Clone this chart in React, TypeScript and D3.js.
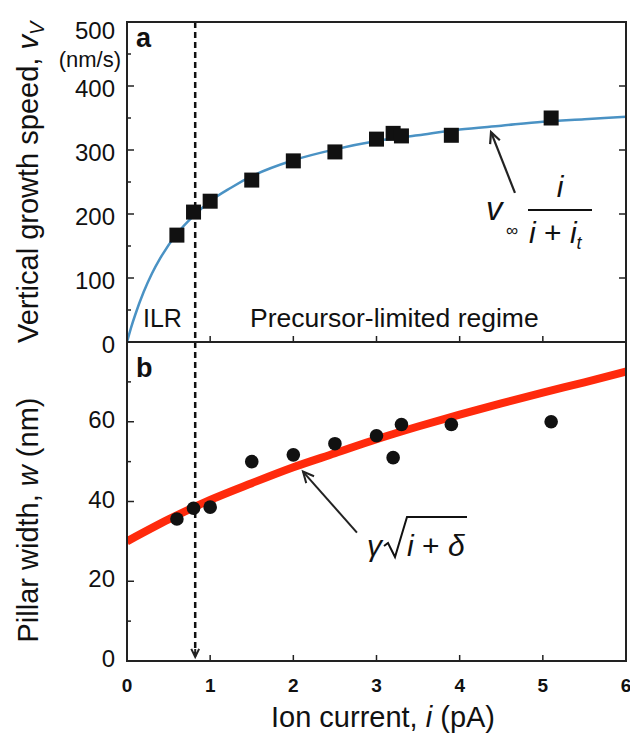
import React from "react";
import * as d3 from "d3";

// x axis shared by both panels
const xTicks = [0, 1, 2, 3, 4, 5, 6];
const speedTicks = [0, 100, 200, 300, 400, 500];
const speedMinor = [50, 150, 250, 350, 450];
const widthTicks = [0, 20, 40, 60];
const widthMinor = [10, 30, 50, 70];

// panel a: vertical growth speed (nm/s)
const speedX = [0.6, 0.8, 1.0, 1.5, 2.0, 2.5, 3.0, 3.2, 3.3, 3.9, 5.1];
const speedY = [167, 203, 220, 253, 283, 297, 317, 326, 322, 323, 350];
// fitted curve
const speedFitX = [0, 0.05, 0.1, 0.2, 0.3, 0.4, 0.6, 0.8, 1, 1.25, 1.5, 2, 2.5, 3, 3.5, 4, 4.5, 5, 5.5, 6];
const speedFitY = [0, 23, 43, 78, 107, 131, 169, 197, 220, 241, 259, 284, 301, 314, 323, 332, 338, 344, 348, 352];

// panel b: pillar width (nm)
const widthX = [0.6, 0.8, 1.0, 1.5, 2.0, 2.5, 3.0, 3.2, 3.3, 3.9, 5.1];
const widthY = [35.6, 38.3, 38.6, 50, 51.7, 54.5, 56.5, 51, 59.3, 59.3, 60];
const widthFitX = [0, 0.5, 1, 1.5, 2, 2.5, 3, 3.5, 4, 4.5, 5, 5.5, 6];
const widthFitY = [30, 35.5, 40.4, 44.6, 48.6, 52.1, 55.6, 58.8, 61.8, 64.6, 67.3, 69.9, 72.6];

const ilrCurrent = 0.82;

const W = 630;
const H = 734;
const left = 127;
const right = 626;
const topA = 22;
const mid = 342;
const botB = 661;

const font = "'Liberation Sans', Arial, Helvetica, sans-serif";
const ink = "#222";

export default function App() {
  const x = d3.scaleLinear().domain([0, 6]).range([left, right]);
  const yA = d3.scaleLinear().domain([0, 500]).range([mid, topA]);
  const yB = d3.scaleLinear().domain([0, 80]).range([botB, mid]);

  const lineA = d3
    .line<number>()
    .x((d, i) => x(speedFitX[i]))
    .y((d) => yA(d))
    .curve(d3.curveMonotoneX);
  const lineB = d3
    .line<number>()
    .x((d, i) => x(widthFitX[i]))
    .y((d) => yB(d))
    .curve(d3.curveMonotoneX);

  const arrow = (x1: number, y1: number, x2: number, y2: number, len = 10, w = 2) => {
    const ang = Math.atan2(y2 - y1, x2 - x1);
    const a1 = ang + Math.PI - 0.45;
    const a2 = ang + Math.PI + 0.45;
    return (
      <g stroke={ink} strokeWidth={w} fill="none">
        <line x1={x1} y1={y1} x2={x2} y2={y2} />
        <polyline
          points={`${x2 + len * Math.cos(a1)},${y2 + len * Math.sin(a1)} ${x2},${y2} ${x2 + len * Math.cos(a2)},${y2 + len * Math.sin(a2)}`}
        />
      </g>
    );
  };

  const sq = 15;

  return (
    <svg width={W} height={H} style={{ position: "absolute", left: 0, top: 0, background: "#fff" }} fontFamily={font}>
      <defs>
        <clipPath id="clipA">
          <rect x={left} y={topA} width={right - left} height={mid - topA} />
        </clipPath>
        <clipPath id="clipB">
          <rect x={left} y={mid} width={right - left} height={botB - mid} />
        </clipPath>
      </defs>

      {/* ticks, all pointing inward */}
      <g stroke={ink} strokeWidth={1.5}>
        {speedTicks.slice(1, -1).map((t) => (
          <g key={"sa" + t}>
            <line x1={left} x2={left + 7} y1={yA(t)} y2={yA(t)} />
            <line x1={right} x2={right - 7} y1={yA(t)} y2={yA(t)} />
          </g>
        ))}
        {speedMinor.map((t) => (
          <line key={"sm" + t} x1={left} x2={left + 4} y1={yA(t)} y2={yA(t)} />
        ))}
        {xTicks.slice(1, -1).map((t) => (
          <g key={"xa" + t}>
            <line x1={x(t)} x2={x(t)} y1={mid} y2={mid - 6} />
            <line x1={x(t)} x2={x(t)} y1={botB} y2={botB - 6} />
          </g>
        ))}
        {widthTicks.slice(1).map((t) => (
          <line key={"wb" + t} x1={left} x2={left + 7} y1={yB(t)} y2={yB(t)} />
        ))}
        {widthMinor.map((t) => (
          <line key={"wm" + t} x1={left} x2={left + 4} y1={yB(t)} y2={yB(t)} />
        ))}
      </g>

      {/* dashed ILR line */}
      <line
        x1={x(ilrCurrent)}
        x2={x(ilrCurrent)}
        y1={topA}
        y2={botB - 6}
        stroke="#111"
        strokeWidth={2.5}
        strokeDasharray="6,4"
      />
      {arrow(x(ilrCurrent), botB - 12, x(ilrCurrent), botB - 4, 9, 2)}

      {/* panel a data */}
      <path d={lineA(speedFitY) ?? ""} fill="none" stroke="#4a92c4" strokeWidth={2.5} clipPath="url(#clipA)" />
      {speedX.map((v, i) => (
        <rect key={"p" + i} x={x(v) - sq / 2} y={yA(speedY[i]) - sq / 2} width={sq} height={sq} fill="#111" />
      ))}

      {/* panel b data */}
      <path d={lineB(widthFitY) ?? ""} fill="none" stroke="#ff2a0c" strokeWidth={8} clipPath="url(#clipB)" />
      {widthX.map((v, i) => (
        <circle key={"c" + i} cx={x(v)} cy={yB(widthY[i])} r={6.8} fill="#111" />
      ))}

      {/* frames */}
      <rect x={left} y={topA} width={right - left} height={mid - topA} fill="none" stroke={ink} strokeWidth={2} />
      <rect x={left} y={mid} width={right - left} height={botB - mid} fill="none" stroke={ink} strokeWidth={2} />

      {/* tick labels */}
      <g fontSize={24} fill="#111" textAnchor="end">
        {speedTicks.map((t) => (
          <text key={"la" + t} x={115} y={t === 500 ? 39 : yA(t) + 11}>
            {t}
          </text>
        ))}
        <text x={121} y={67} fontSize={22}>
          (nm/s)
        </text>
        {widthTicks.map((t) => (
          <text key={"lb" + t} x={115} y={yB(t) + 6}>
            {t}
          </text>
        ))}
      </g>
      <g fontSize={19} fontWeight="bold" fill="#111" textAnchor="middle">
        {xTicks.map((t) => (
          <text key={"lx" + t} x={x(t)} y={692}>
            {t}
          </text>
        ))}
      </g>

      {/* axis titles */}
      <text x={383} y={727} fontSize={29} textAnchor="middle" fill="#111">
        Ion current, <tspan fontStyle="italic">i</tspan> (pA)
      </text>
      <text transform="translate(38,343) rotate(-90)" fontSize={29} fill="#111">
        Vertical growth speed, <tspan fontStyle="italic">v</tspan>
        <tspan fontSize={20} dy={6} fontStyle="italic">
          V
        </tspan>
      </text>
      <text transform="translate(38,520) rotate(-90)" fontSize={29} fill="#111" textAnchor="middle">
        Pillar width, <tspan fontStyle="italic">w</tspan> (nm)
      </text>

      {/* panel labels */}
      <text x={136} y={47} fontSize={27} fontWeight="bold" fill="#111">
        a
      </text>
      <text x={136} y={377} fontSize={27} fontWeight="bold" fill="#111">
        b
      </text>

      {/* regime labels */}
      <text x={143} y={327} fontSize={25} fill="#111">
        ILR
      </text>
      <text x={250} y={327} fontSize={26.5} fill="#111">
        Precursor-limited regime
      </text>

      {/* panel a formula */}
      {arrow(x(4.665), yA(233), x(4.377), yA(328), 12, 2.2)}
      <g fill="#111" fontStyle="italic">
        <text x={486} y={220} fontSize={33}>
          v
        </text>
        <text x={506} y={236} fontSize={17} fontStyle="normal">
          ∞
        </text>
        <text x={560} y={197} fontSize={30} textAnchor="middle">
          i
        </text>
        <line x1={528} x2={592} y1={210} y2={210} stroke="#111" strokeWidth={2.2} />
        <text x={529} y={243} fontSize={30}>
          i<tspan fontStyle="normal"> + </tspan>i
          <tspan fontSize={18} dy={6}>
            t
          </tspan>
        </text>
      </g>

      {/* panel b formula */}
      {arrow(x(2.765), yB(32.2), x(2.116), yB(47.5), 12, 2)}
      <g fill="#111">
        <text x={367} y={556} fontSize={30} fontStyle="italic">
          γ
        </text>
        <polyline
          points="384,546 388,543 395,557 407,517 467,517"
          fill="none"
          stroke="#111"
          strokeWidth={2}
        />
        <text x={407} y={556} fontSize={30}>
          <tspan fontStyle="italic">i</tspan> + <tspan fontStyle="italic">δ</tspan>
        </text>
      </g>
    </svg>
  );
}
